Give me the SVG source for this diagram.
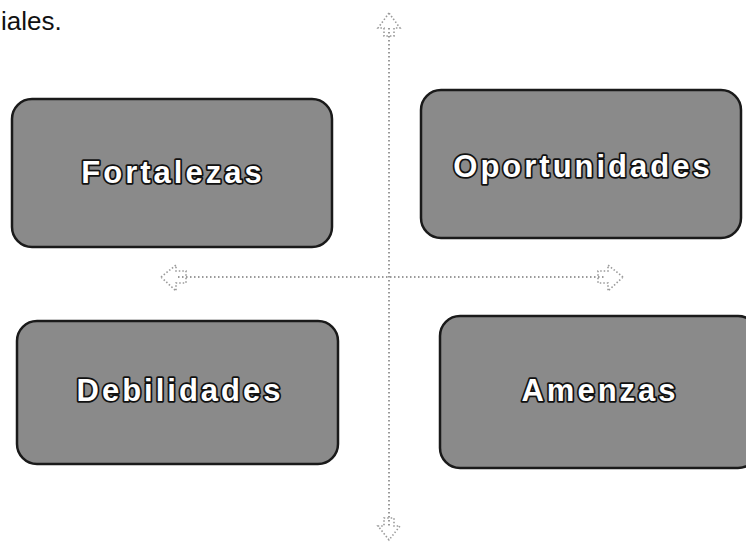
<svg xmlns="http://www.w3.org/2000/svg" width="746" height="543" viewBox="0 0 746 543">
<style>
.box{fill:#8a8a8a;stroke:#1a1a1a;stroke-width:2.5}
.lbl{font-family:"Liberation Sans",Arial,sans-serif;font-size:31px;font-weight:bold;fill:#fff;stroke:#111;stroke-width:3.5;paint-order:stroke;stroke-linejoin:round;text-anchor:middle;letter-spacing:3px}
.axis{fill:none;stroke:#9a9a9a;stroke-width:2;stroke-dasharray:1.5 2.5}
.head{fill:none;stroke:#9a9a9a;stroke-width:1.6;stroke-dasharray:1.5 2}
.cap{font-family:"Liberation Sans",Arial,sans-serif;font-size:26px;fill:#111}
</style>
<rect width="746" height="543" fill="#fff"/>
<text class="cap" x="1" y="30">iales.</text>
<g id="connectors">
<line class="axis" x1="389" y1="28" x2="389" y2="526"/>
<line class="axis" x1="178" y1="277" x2="604" y2="277"/>
<path class="head" d="M389,13 L378,28 L384,28 L384,36 L394,36 L394,28 L400,28 Z"/>
<path class="head" d="M389,540 L378,526 L384,526 L384,518 L394,518 L394,526 L400,526 Z"/>
<path class="head" d="M161,277 L176,265 L176,271 L186,271 L186,283 L176,283 L176,291 Z"/>
<path class="head" d="M623,277 L608,265 L608,271 L598,271 L598,283 L608,283 L608,291 Z"/>
</g>
<g id="fortalezas">
<rect class="box" x="12" y="99" width="320" height="148" rx="20"/>
<text class="lbl" x="173" y="183">Fortalezas</text>
</g>
<g id="oportunidades">
<rect class="box" x="421" y="90" width="320" height="148" rx="20"/>
<text class="lbl" x="583" y="177">Oportunidades</text>
</g>
<g id="debilidades">
<rect class="box" x="17" y="321" width="321" height="143" rx="20"/>
<text class="lbl" x="180" y="401">Debilidades</text>
</g>
<g id="amenzas">
<rect class="box" x="440" y="316" width="318" height="152" rx="20"/>
<text class="lbl" x="600" y="401">Amenzas</text>
</g>
</svg>
